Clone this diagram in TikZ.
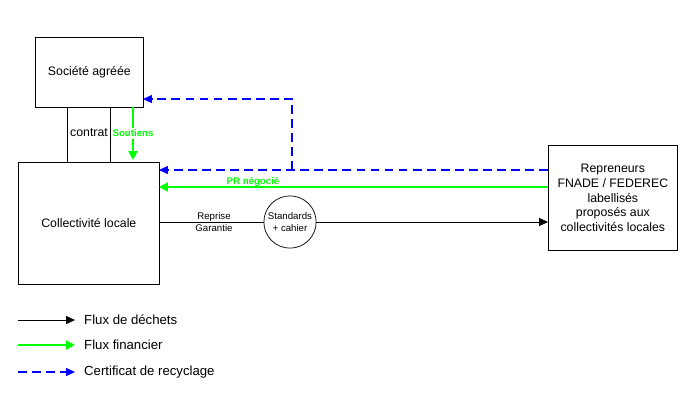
\documentclass[tikz,border=0pt]{standalone}
\usepackage{fontspec}
\setmainfont{Liberation Sans}
\usetikzlibrary{arrows.meta}
\definecolor{vert}{RGB}{0,255,0}
\tikzset{
  block/.style  = {draw, rectangle, anchor=north west, inner sep=0pt, align=center, font=\fontsize{7}{8.5}\selectfont},
  petit/.style  = {font=\fontsize{5.5}{6.5}\selectfont, inner sep=1pt, align=center},
  dechet/.style = {-{Triangle[length=5pt,width=4.5pt]}, black},
  financ/.style = {-{Triangle[length=5pt,width=5pt]}, vert, line width=1.4pt},
  certif/.style = {-{Triangle[length=5pt,width=4.5pt]}, blue, dash pattern=on 5pt off 3pt, semithick}
}
\begin{document}
\begin{tikzpicture}[x=0.02cm, y=-0.02cm]
\useasboundingbox (0,0) rectangle (688,410);

% Acteurs
\node [block, minimum width=108*0.02cm, minimum height=70*0.02cm] (soc) at (35,37) {Société agréée};
\node [block, minimum width=141*0.02cm, minimum height=122*0.02cm] (coll) at (18,162) {Collectivité locale};
\node [block, minimum width=129*0.02cm, minimum height=105*0.02cm] (rep) at (548,145)
  {Repreneurs\\FNADE / FEDEREC\\labellisés\\proposés aux\\collectivités locales};
\node [draw, circle, minimum size=50*0.02cm, inner sep=0pt, petit] (std) at (290,222) {Standards\\+ cahier};

% Contrat
\draw (67,107) -- (67,162);
\draw (110,107) -- (110,162);
\node [font=\fontsize{7}{8}\selectfont] (contrat) at (89,133) {contrat};

% Flux
\coordinate (s1) at (133,107);
\coordinate (s2) at (133,160);
\draw [financ] (s1) -- node [petit, fill=white, text=vert] {\bfseries Soutiens} (s2);

\coordinate (c1) at (548,170);
\coordinate (c2) at (159,170);
\coordinate (c3) at (292,170);
\coordinate (c4) at (292,99);
\coordinate (c5) at (143,99);
\draw [certif] (c1) -- (c2);
\draw [certif] (c3) -- (c4) -- (c5);

\coordinate (p1) at (548,187);
\coordinate (p2) at (159,187);
\draw [financ] (p1) -- (p2);
\node [petit, text=vert] (pr) at (253,182) {\bfseries PR négocié};

\coordinate (d1) at (159,222);
\coordinate (d2) at (548,222);
\draw (d1) -- (std.west);
\draw [dechet] (std.east) -- (d2);
\node [petit] (rg) at (214,222) {Reprise\\Garantie};

% Legende
\foreach \y/\sty/\txt/\n in {320/dechet/Flux de déchets/a, 345/financ/Flux financier/b, 372/certif/Certificat de recyclage/c} {
  \coordinate (l\n) at (18,\y);
  \coordinate (m\n) at (75,\y);
  \draw [\sty] (l\n) -- (m\n);
  \node [anchor=west, font=\fontsize{7.5}{9}\selectfont] (t\n) at (78,\y) {\txt};
}
\end{tikzpicture}
\end{document}
